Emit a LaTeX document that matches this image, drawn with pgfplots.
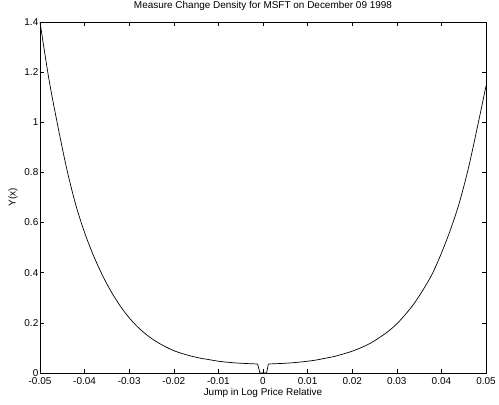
\documentclass[border=0pt]{standalone}
\usepackage{fontspec}
\setmainfont{Liberation Sans}
\usepackage{pgfplots}
\pgfplotsset{compat=1.18}
\begin{document}
\begin{tikzpicture}
\useasboundingbox (-40bp,-32bp) rectangle (459bp,373bp);
\begin{axis}[
  scale only axis,
  width=446bp, height=351bp,
  xmin=-0.05, xmax=0.05, ymin=0, ymax=1.4,
  xtick={-0.05,-0.04,-0.03,-0.02,-0.01,0,0.01,0.02,0.03,0.04,0.05},
  xticklabels={-0.05,-0.04,-0.03,-0.02,-0.01,0,0.01,0.02,0.03,0.04,0.05},
  ytick={0,0.2,0.4,0.6,0.8,1,1.2,1.4},
  yticklabels={0,0.2,0.4,0.6,0.8,1,1.2,1.4},
  scaled x ticks=false,
  tick align=inside, tick pos=both,
  major tick length=4bp,
  axis line style={line width=0.8bp},
  every tick/.style={black, line width=0.6bp},
  tick label style={font=\fontsize{10}{12}\selectfont},
  xticklabel style={inner sep=0pt, yshift=-4bp},
  yticklabel style={inner sep=0pt, xshift=-1.5bp},
  title={Measure Change Density for MSFT on December 09 1998},
  title style={font=\fontsize{10}{12}\selectfont, inner sep=0pt, at={(0.5,1)}, anchor=south, yshift=5bp},
  xlabel={Jump in Log Price Relative},
  xlabel style={font=\fontsize{10}{12}\selectfont, inner sep=0pt, at={(axis description cs:0.5,0)}, anchor=north, yshift=-15bp},
  ylabel={Y(x)},
  ylabel style={font=\fontsize{10}{12}\selectfont, inner sep=0pt, at={(axis description cs:-0.0493,0.5)}, anchor=south},
]
\addplot[black, line width=0.7bp, smooth, tension=0.5] coordinates {
(-0.050,1.400)
(-0.048,1.172)
(-0.046,0.985)
(-0.044,0.814)
(-0.042,0.672)
(-0.040,0.560)
(-0.038,0.468)
(-0.036,0.390)
(-0.034,0.323)
(-0.032,0.267)
(-0.030,0.220)
(-0.028,0.182)
(-0.026,0.151)
(-0.024,0.126)
(-0.022,0.106)
(-0.020,0.089)
(-0.018,0.077)
(-0.016,0.067)
(-0.014,0.059)
(-0.012,0.053)
(-0.010,0.047)
(-0.008,0.043)
(-0.006,0.040)
(-0.004,0.038)
(-0.002,0.0365)
(-0.0012,0.036)
};
\addplot[black, line width=0.7bp] coordinates {
(-0.0012,0.036)
(-0.0007,0.000)
(0.0008,0.000)
(0.0012,0.036)
};
\addplot[black, line width=0.7bp, smooth, tension=0.5] coordinates {
(0.0012,0.036)
(0.002,0.0365)
(0.004,0.038)
(0.006,0.040)
(0.008,0.043)
(0.010,0.047)
(0.012,0.052)
(0.014,0.059)
(0.016,0.066)
(0.018,0.076)
(0.020,0.087)
(0.022,0.101)
(0.024,0.118)
(0.026,0.140)
(0.028,0.165)
(0.030,0.196)
(0.032,0.235)
(0.034,0.280)
(0.036,0.335)
(0.038,0.397)
(0.040,0.478)
(0.042,0.570)
(0.044,0.678)
(0.046,0.813)
(0.048,0.975)
(0.050,1.145)
};
\end{axis}
\end{tikzpicture}
\end{document}
